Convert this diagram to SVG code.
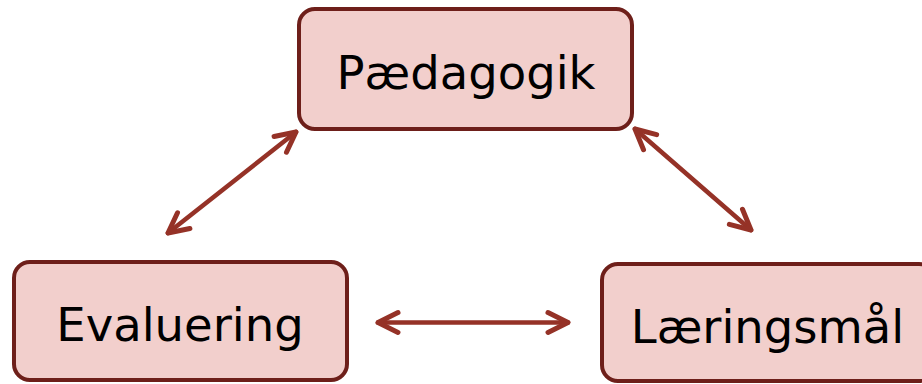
<svg xmlns="http://www.w3.org/2000/svg" width="922" height="384" viewBox="0 0 922 384">
<style>
.box{fill:#f2cfcc;stroke:#6e1f1a;stroke-width:4}
.lbl{font-family:"DejaVu Sans",Verdana,sans-serif;font-size:46.5px;fill:#000;text-anchor:middle}
.con{stroke:#953227;stroke-width:4.5;fill:none;stroke-linecap:round}
</style>
<defs>
<marker id="ah" markerUnits="userSpaceOnUse" markerWidth="30" markerHeight="30" viewBox="-25 -15 30 30" refX="0" refY="0" orient="auto-start-reverse" overflow="visible">
<path d="M -20 -10 L 0 0 L -20 10" fill="none" stroke="#953227" stroke-width="5" stroke-linecap="round" stroke-linejoin="round"/>
</marker>
</defs>
<g id="connectors">
<path class="con" d="M 168 233 L 296 132" marker-start="url(#ah)" marker-end="url(#ah)"/>
<path class="con" d="M 635 129 L 751 230" marker-start="url(#ah)" marker-end="url(#ah)"/>
<path class="con" d="M 378 322.5 L 568 322.5" marker-start="url(#ah)" marker-end="url(#ah)"/>
</g>
<g id="paedagogik">
<rect class="box" x="299" y="9" width="333" height="120" rx="16"/>
<text class="lbl" x="466" y="89">Pædagogik</text>
</g>
<g id="evaluering">
<rect class="box" x="14" y="262" width="333" height="118" rx="16"/>
<text class="lbl" x="180" y="341">Evaluering</text>
</g>
<g id="laeringsmaal">
<rect class="box" x="602" y="264" width="333" height="117" rx="16"/>
<text class="lbl" x="767.5" y="343">Læringsmål</text>
</g>
</svg>
